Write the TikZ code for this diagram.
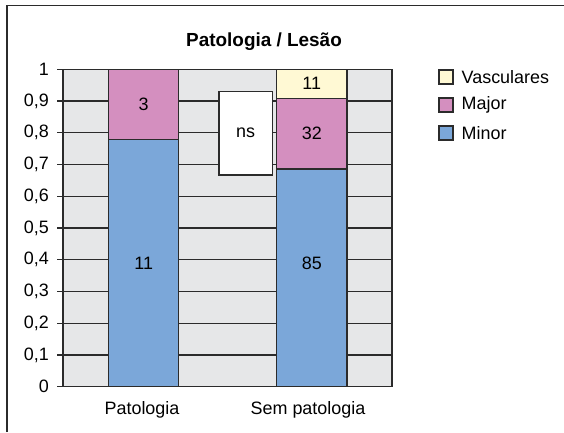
\documentclass[tikz,border=0pt]{standalone}
\usepackage{fontspec}
\setmainfont{Liberation Sans}
\definecolor{plotbg}{HTML}{E6E7E8}
\definecolor{minorc}{HTML}{7BA7D9}
\definecolor{majorc}{HTML}{D48FBF}
\definecolor{vascc}{HTML}{FFF9D4}
\definecolor{linec}{HTML}{2B2B2B}
\tikzset{
  lbl/.style={font=\fontsize{18}{18}\selectfont, inner sep=0pt},
  barseg/.style={draw=linec, line width=1.2pt},
  gridl/.style={draw=linec, line width=1.2pt},
  legbox/.style={draw=linec, line width=1.2pt, minimum size=14bp, inner sep=0pt},
}
\begin{document}
\begin{tikzpicture}[x=1bp, y=1bp]
\useasboundingbox (0,0) rectangle (564,432);
% outer frame
\draw[linec, line width=1.2pt] (7,0) -- (7,426.5) -- (564,426.5);
% title
\node[font=\bfseries\fontsize{19}{19}\selectfont, inner sep=0pt] (title) at (264,390) {Patologia / Lesão};
\begin{scope}[yshift=45.3bp, y=317.4bp]
  \fill[plotbg] (63,0) rectangle (392,1);
  \foreach \v in {0,1,...,10} {
    \draw[gridl] (57,\v/10) -- (392,\v/10);
  }
  \foreach \v/\t in {0/0,0.1/{0,1},0.2/{0,2},0.3/{0,3},0.4/{0,4},0.5/{0,5},0.6/{0,6},0.7/{0,7},0.8/{0,8},0.9/{0,9},1/1} {
    \node[lbl, anchor=east] at (49,\v) {\t};
  }
  \draw[gridl] (63,0) -- (63,1);
  \draw[gridl] (392,0) -- (392,1);
  % Patologia bar
  \draw[barseg, fill=minorc] (108.7,0) rectangle (178.7,0.78);
  \draw[barseg, fill=majorc] (108.7,0.78) rectangle (178.7,1);
  \node[lbl] (p11) at (143.7,0.39) {11};
  \node[lbl] (p3) at (143.7,0.89) {3};
  % Sem patologia bar
  \draw[barseg, fill=minorc] (276.7,0) rectangle (347,0.686);
  \draw[barseg, fill=majorc] (276.7,0.686) rectangle (347,0.909);
  \draw[barseg, fill=vascc] (276.7,0.909) rectangle (347,1);
  \node[lbl] (s85) at (311.8,0.39) {85};
  \node[lbl] (s32) at (311.8,0.7975) {32};
  \node[lbl] (s11) at (311.8,0.9545) {11};
  % ns box
  \draw[barseg, fill=white] (219,0.667) rectangle (272.3,0.93);
  \node[lbl] (ns) at (245.6,0.7985) {ns};
\end{scope}
% category labels
\node[lbl] (c1) at (142,21.5) {\strut Patologia};
\node[lbl] (c2) at (308,21.5) {\strut Sem patologia};
% legend
\node[legbox, fill=vascc] (lv) at (446,355) {};
\node[legbox, fill=majorc] (lm) at (446,327) {};
\node[legbox, fill=minorc] (ln) at (446,299) {};
\node[lbl, anchor=west] (tv) at (461.5,355) {Vasculares};
\node[lbl, anchor=west] (tm) at (461.5,327) {Major};
\node[lbl, anchor=west] (tn) at (461.5,299) {Minor};
\end{tikzpicture}
\end{document}
